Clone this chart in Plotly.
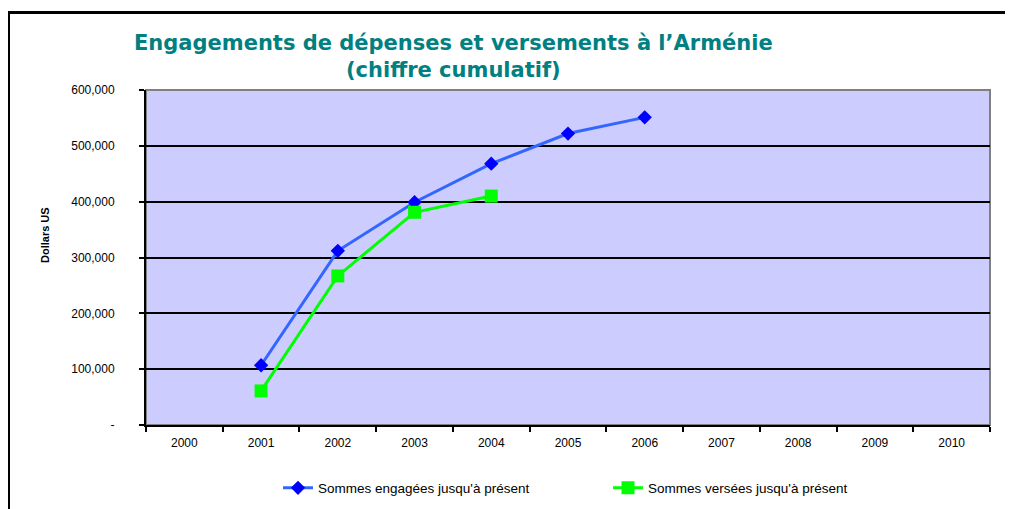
import plotly.graph_objects as go

years = ["2000", "2001", "2002", "2003", "2004", "2005", "2006", "2007", "2008", "2009", "2010"]
engaged_years = ["2001", "2002", "2003", "2004", "2005", "2006"]
engaged_values = [107000, 312000, 399000, 468000, 522000, 551000]
paid_years = ["2001", "2002", "2003", "2004"]
paid_values = [61000, 267000, 381000, 410000]
y_ticks = [0, 100000, 200000, 300000, 400000, 500000, 600000]
y_tick_labels = ["-", "100,000", "200,000", "300,000", "400,000", "500,000", "600,000"]

OFF = 8  # page body margin
W, H = 1013 - OFF, 509 - OFF
L, R, T = 146 - OFF, 1013 - 990, 90 - OFF
B = H - (425 - OFF)
PW, PH = W - L - R, H - T - B

def px(x):
    return (x - OFF - L) / PW

def py(y):
    return (H - B - (y - OFF)) / PH

fig = go.Figure()
fig.add_trace(go.Scatter(
    x=engaged_years, y=engaged_values, mode="lines+markers",
    name="Sommes engagées jusqu'à présent",
    line=dict(color="#3366FF", width=3),
    marker=dict(symbol="diamond", size=11, color="#0000FF"),
))
fig.add_trace(go.Scatter(
    x=paid_years, y=paid_values, mode="lines+markers",
    name="Sommes versées jusqu'à présent",
    line=dict(color="#00FF00", width=3),
    marker=dict(symbol="square", size=13, color="#00FF00"),
))

fig.update_layout(
    width=W, height=H,
    margin=dict(l=L, r=R, t=T, b=B, autoexpand=False),
    paper_bgcolor="white",
    plot_bgcolor="#CCCCFF",
    font=dict(family="Liberation Sans, Arial, sans-serif", size=12, color="#000000"),
    showlegend=True,
    legend=dict(
        orientation="h", x=px(278), xanchor="left", y=py(488), yanchor="middle",
        font=dict(size=13.5), entrywidth=285, entrywidthmode="pixels",
        bgcolor="rgba(0,0,0,0)",
    ),
    xaxis=dict(
        type="category", categoryorder="array", categoryarray=years,
        range=[-0.5, 10.5], showgrid=False, zeroline=False,
        ticks="outside", ticklen=5, tickwidth=2, tickcolor="black",
        tickson="boundaries", showline=True, linecolor="black", linewidth=2,
        tickfont=dict(size=12, color="#000000"), ticklabelstandoff=6,
        fixedrange=True,
    ),
    yaxis=dict(
        range=[0, 600000], tickvals=y_ticks, ticktext=y_tick_labels,
        showgrid=True, gridcolor="black", gridwidth=2, zeroline=False,
        ticks="outside", ticklen=5, tickwidth=2, tickcolor="black",
        showline=True, linecolor="black", linewidth=2,
        tickfont=dict(size=12, color="#000000"), ticklabelstandoff=22,
        fixedrange=True,
    ),
    shapes=[
        dict(type="rect", xref="paper", yref="paper", x0=0, x1=1, y0=0, y1=1,
             line=dict(color="#808080", width=2), layer="below"),
        dict(type="rect", xref="paper", yref="paper", x0=px(8.5), x1=px(1040),
             y0=py(540), y1=py(12.5), line=dict(color="black", width=3)),
    ],
    annotations=[
        dict(text="<b>Engagements de dépenses et versements à l’Arménie<br>(chiffre cumulatif)</b>",
             xref="paper", yref="paper", x=px(453), y=py(56), xanchor="center", yanchor="middle",
             showarrow=False, font=dict(size=21, color="#008080", family="DejaVu Sans, sans-serif"),
             align="center"),
        dict(text="<b>Dollars US</b>", textangle=-90, xref="paper", yref="paper",
             x=px(45), y=py(235), xanchor="center", yanchor="middle", showarrow=False,
             font=dict(size=11, color="#000000")),
    ],
)
fig.update_yaxes(layer="below traces")

fig.write_html("out.html")
